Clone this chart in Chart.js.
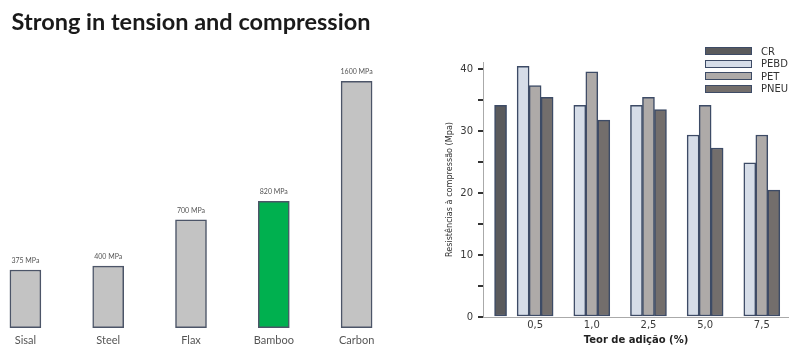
<!DOCTYPE html>
<html lang="pt">
<head>
  <meta charset="UTF-8">
  <title>Resistencias</title>
  <script src="https://cdn.jsdelivr.net/npm/chart.js"></script>
  <style>
    body { margin: 0; width: 789px; height: 360px; overflow: hidden; position: relative; background: #fff; }
    #left { position: absolute; left: -16px; top: 0; width: 414px; height: 360px; }
    #right { position: absolute; left: 400px; top: 30px; width: 400px; height: 330px; }
    #legenda { position: absolute; left: 705px; top: 45px; font: 10px "DejaVu Sans", sans-serif; color: #333; }
    .item { display: flex; align-items: center; height: 12.5px; }
    .caixa { width: 45px; height: 6px; border: 1.5px solid #3d4b66; margin-right: 9px; }
  </style>
</head>
<body>
  <div id="left"><canvas id="tension"></canvas></div>
  <div id="right"><canvas id="compressao"></canvas></div>
  <div id="legenda"></div>

  <script>
    // grafico da esquerda
    const fibras = ['Sisal', 'Steel', 'Flax', 'Bamboo', 'Carbon'];
    const resist = [375, 400, 700, 820, 1600];
    const corFibra = ['#c3c3c3', '#c3c3c3', '#c3c3c3', '#00b04f', '#c3c3c3'];

    // grafico da direita
    const teores = ['', '0,5', '1,0', '2,5', '5,0', '7,5'];
    const posTeor = [0.39, 1, 2, 3, 4, 5];
    const series = ['CR', 'PEBD', 'PET', 'PNEU'];
    const cr = [34.2, null, null, null, null, null];
    const pebd = [null, 40.5, 34.2, 34.2, 29.4, 24.9];
    const pet = [null, 37.4, 39.6, 35.5, 34.2, 29.4];
    const pneu = [null, 35.5, 31.8, 33.5, 27.3, 20.5];
    const cores = ['#5a5a5c', '#d6dde8', '#aeaaa8', '#736e6c'];

    document.addEventListener("DOMContentLoaded", () => {
      // rotulos "xxx MPa" acima das barras
      const rotulos = {
        id: 'rotulos',
        afterDatasetsDraw(chart) {
          const ctx = chart.ctx;
          ctx.save();
          ctx.font = '7px Lato, sans-serif';
          ctx.fillStyle = '#555';
          ctx.textAlign = 'center';
          ctx.textBaseline = 'bottom';
          chart.getDatasetMeta(0).data.forEach((bar, i) => {
            ctx.fillText(resist[i] + ' MPa', bar.x, bar.y - 6);
          });
          ctx.restore();
        }
      };

      new Chart(document.getElementById("tension"), {
        type: 'bar',
        data: {
          labels: fibras,
          datasets: [{
            data: resist,
            backgroundColor: corFibra,
            borderColor: '#4c5568',
            borderWidth: 1.5,
            borderSkipped: false,
            barThickness: 31
          }]
        },
        options: {
          responsive: true,
          maintainAspectRatio: false,
          animation: false,
          layout: { padding: { bottom: 10 } },
          scales: {
            x: {
              grid: { display: false, drawTicks: false },
              border: { display: false },
              ticks: { font: { family: 'Lato', size: 11 }, color: '#555', padding: 3 }
            },
            y: { display: false, min: -20, max: 1750 }
          },
          plugins: {
            legend: { display: false },
            tooltip: { enabled: false },
            title: {
              display: true,
              text: 'Strong in tension and compression',
              font: { family: 'Lato', size: 23.5, weight: 'bold' },
              color: '#1a1a1a',
              padding: { top: 8, bottom: 22 }
            }
          }
        },
        plugins: [rotulos]
      });

      const valores = [cr, pebd, pet, pneu];
      const datasets = series.map((nome, s) => ({
        label: nome,
        data: posTeor.map((x, i) => ({ x: x, y: valores[s][i] })),
        backgroundColor: cores[s],
        borderColor: '#3d4b66',
        borderWidth: 1.5,
        borderSkipped: false,
        barThickness: 12,
        skipNull: true
      }));

      new Chart(document.getElementById("compressao"), {
        type: 'bar',
        data: { datasets: datasets },
        options: {
          responsive: true,
          maintainAspectRatio: false,
          animation: false,
          layout: { padding: { top: 32, right: 11, bottom: 14 } },
          scales: {
            x: {
              type: 'linear',
              offset: false,
              min: 0.08,
              max: 5.48,
              grid: { display: false, drawTicks: false },
              border: { color: '#aaa', width: 1 },
              afterBuildTicks: (axis) => {
                axis.ticks = posTeor.slice(1).map(v => ({ value: v }));
              },
              ticks: {
                autoSkip: false,
                maxRotation: 0,
                padding: 2,
                font: { family: 'DejaVu Sans', size: 10 },
                color: '#3a3a3a',
                callback: (v, i) => teores[i + 1]
              },
              title: {
                display: true,
                text: 'Teor de adição (%)',
                font: { family: 'DejaVu Sans', size: 10, weight: 'bold' },
                color: '#222',
                padding: { top: 1, bottom: 0 }
              }
            },
            y: {
              min: 0,
              max: 41.2,
              afterFit: (scale) => { scale.width = 83; },
              grid: { drawOnChartArea: false, drawTicks: true, tickLength: 5, color: '#333', lineWidth: 2 },
              border: { color: '#aaa', width: 1 },
              ticks: {
                stepSize: 5,
                includeBounds: false,
                padding: 5,
                font: { family: 'DejaVu Sans', size: 10 },
                color: '#3a3a3a',
                callback: (v) => v % 10 === 0 ? v : ''
              },
              title: {
                display: true,
                text: 'Resistências à compressão (Mpa)',
                font: { family: "'Liberation Sans Narrow', 'DejaVu Sans Condensed', Roboto, sans-serif", size: 9 },
                color: '#333',
                padding: { top: 44, bottom: 0 }
              }
            }
          },
          plugins: {
            legend: { display: false },
            tooltip: { enabled: false }
          }
        }
      });

      // legenda em html
      const legenda = document.getElementById("legenda");
      series.forEach((nome, s) => {
        const item = document.createElement("div");
        item.className = "item";
        const caixa = document.createElement("span");
        caixa.className = "caixa";
        caixa.style.background = cores[s];
        item.appendChild(caixa);
        item.appendChild(document.createTextNode(nome));
        legenda.appendChild(item);
      });
    });
  </script>
</body>
</html>
